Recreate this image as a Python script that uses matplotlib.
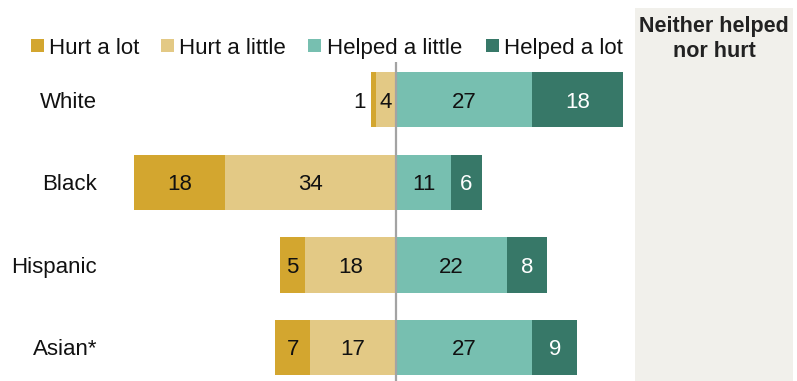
import matplotlib
matplotlib.use("Agg")
import matplotlib.pyplot as plt
from matplotlib import transforms
from matplotlib.patches import Rectangle

plt.rcParams['font.family'] = ['Liberation Sans', 'DejaVu Sans']

# ---- data ----
categories = ["White", "Black", "Hispanic", "Asian*"]
hurt_a_lot = [1, 18, 5, 7]
hurt_a_little = [4, 34, 18, 17]
helped_a_little = [27, 11, 22, 27]
helped_a_lot = [18, 6, 8, 9]
neither = [50, 29, 44, 40]
series_labels = ["Hurt a lot", "Hurt a little", "Helped a little", "Helped a lot"]
series_colors = ["#D3A62F", "#E3C985", "#77BFB0", "#377868"]
panel_title = "Neither helped\nnor hurt"

W, H = 797, 381
fig = plt.figure(figsize=(W / 100, H / 100), dpi=100)

# gray panel on the right
fig.patches.append(Rectangle((635 / W, 0), (793 - 635) / W, (H - 8) / H,
                             transform=fig.transFigure, facecolor="#F1F0EB",
                             edgecolor="none", zorder=0))

ax = fig.add_axes([0, 0, 635 / W, (H - 62) / H])
ax.set_xlim(-396 / 5.04, 239 / 5.04)
ax.set_ylim(3.406, -0.46)
ax.axis("off")
ax.patch.set_alpha(0)

y = list(range(len(categories)))
bh = 0.667
fs = 16
va = "center_baseline"

neg1 = [-v for v in hurt_a_little]
ax.barh(y, neg1, height=bh, color=series_colors[1], edgecolor="none")
ax.barh(y, [-v for v in hurt_a_lot], left=neg1, height=bh, color=series_colors[0],
        edgecolor="none")
ax.barh(y, helped_a_little, height=bh, color=series_colors[2], edgecolor="none")
ax.barh(y, helped_a_lot, left=helped_a_little, height=bh, color=series_colors[3],
        edgecolor="none")

ax.axvline(0, color="#A3A3A3", linewidth=1.6, zorder=5)

for i in y:
    a, b, c, d = hurt_a_lot[i], hurt_a_little[i], helped_a_little[i], helped_a_lot[i]
    if a >= 3:
        ax.text(-(b + a / 2), i, str(a), ha="center", va=va, fontsize=fs, color="#111111")
    else:
        ax.text(-(a + b) - 1.0, i, str(a), ha="right", va=va, fontsize=fs, color="#111111")
    ax.text(-b / 2, i, str(b), ha="center", va=va, fontsize=fs, color="#111111")
    ax.text(c / 2, i, str(c), ha="center", va=va, fontsize=fs, color="#111111")
    ax.text(c + d / 2, i, str(d), ha="center", va=va, fontsize=fs, color="white")

tr = transforms.blended_transform_factory(fig.transFigure, ax.transData)
for i, cat in enumerate(categories):
    ax.text(97 / W, i, cat, transform=tr, ha="right", va=va, fontsize=fs, color="#111111")
    ax.text(716 / W, i, str(neither[i]), transform=tr, ha="center", va=va,
            fontsize=16.5, fontweight="bold", color="#222222")

fig.text(714 / W, 1 - 39 / H, panel_title, ha="center", va="center", fontsize=15.5,
         fontweight="bold", color="#222222", linespacing=1.25)

# legend
marker_x = [31, 161, 308, 486]
text_x = [49, 179, 327, 504]
for mx, tx, lab, col in zip(marker_x, text_x, series_labels, series_colors):
    fig.patches.append(Rectangle((mx / W, 1 - 52 / H), 13 / W, 13 / H,
                                 transform=fig.transFigure, facecolor=col, edgecolor="none"))
    fig.text(tx / W, 1 - 46 / H, lab, ha="left", va=va, fontsize=fs, color="#111111")

fig.savefig("out.png", dpi=100)
